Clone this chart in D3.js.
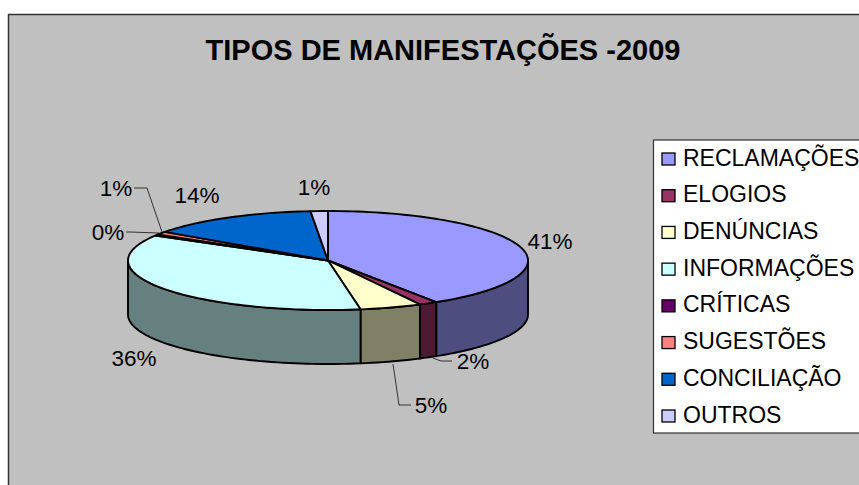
<!DOCTYPE html>
<html><head><meta charset="utf-8">
<script src="https://cdn.jsdelivr.net/npm/d3@7"></script>
<style>html,body{margin:0;padding:0;background:#fff;overflow:hidden}svg{display:block}text{font-family:"Liberation Sans",Arial,sans-serif;fill:#000}</style>
</head><body><svg id="c" width="859" height="485"></svg>
<script>
const categories=["RECLAMAÇÕES","ELOGIOS","DENÚNCIAS","INFORMAÇÕES","CRÍTICAS","SUGESTÕES","CONCILIAÇÃO","OUTROS"];
const values=[40.9,1.5,5,36,0.4,1,13.8,1.4];
const topColors=["#9999FF","#993366","#FFFFCC","#CCFFFF","#660066","#FF8080","#0066CC","#CCCCFF"];
const sideColors=["#4D4D80","#4D1A33","#808066","#668080","#330033","#804040","#003366","#666680"];
const labelPos=[[550,241],[473,361],[431,405],[134,358],[108,232],[116,188],[197,195],[314,187]];
const title="TIPOS DE MANIFESTAÇÕES -2009";
const cx=328,cy=260.5,rx=200,ry=49.5,depth=54;
const svg=d3.select("#c");
svg.append("rect").attr("x",8.5).attr("y",14.5).attr("width",900).attr("height",520).attr("fill","#C0C0C0").attr("stroke","#333").attr("stroke-width",1.5);
svg.append("text").attr("x",443).attr("y",60).attr("text-anchor","middle").attr("font-size",29).attr("font-weight","bold").text(title);

const pie=d3.pie().sort(null).value(d=>d);
const arcs=pie(values);
const xs=d3.scaleLinear().domain([-1,1]).range([cx-rx,cx+rx]);
const ys=d3.scaleLinear().domain([-1,1]).range([cy+ry,cy-ry]);
const px=a=>xs(Math.sin(a)), py=a=>ys(Math.cos(a));
const samples=(a0,a1)=>{const n=Math.max(2,Math.ceil((a1-a0)/0.03));return d3.range(n+1).map(i=>a0+(a1-a0)*i/n);};
const line=d3.line().x(d=>d[0]).y(d=>d[1]);
const g=svg.append("g").attr("stroke","#000").attr("stroke-width",1.9).attr("stroke-linejoin","round");
const visible=arcs.map((d,i)=>({i,a0:Math.max(d.startAngle,Math.PI/2),a1:Math.min(d.endAngle,3*Math.PI/2)})).filter(d=>d.a1>d.a0);
visible.forEach(d=>{
  const top=samples(d.a0,d.a1).map(a=>[px(a),py(a)]);
  const bot=top.slice().reverse().map(p=>[p[0],p[1]+depth]);
  g.append("path").attr("d",line(top.concat(bot))+"Z").attr("fill",sideColors[d.i]);
});
arcs.forEach((d,i)=>{
  const pts=[[cx,cy]].concat(samples(d.startAngle,d.endAngle).map(a=>[px(a),py(a)]));
  g.append("path").attr("d",line(pts)+"Z").attr("fill",topColors[i]);
});
const leaders=[[[433,358],[441,361],[452,361]],[[393,364],[399,405],[411,405]],[[159,233],[130,232],[126,232]],[[162,232],[147,188],[134,188]]];
leaders.forEach(l=>svg.append("path").attr("d",line(l)).attr("fill","none").attr("stroke","#222").attr("stroke-width",0.9));
arcs.forEach((d,i)=>{
  svg.append("text").attr("x",labelPos[i][0]).attr("y",labelPos[i][1]+8).attr("text-anchor","middle").attr("font-size",22.5).text(Math.round(d.value)+"%");
});
svg.append("rect").attr("x",653.5).attr("y",140).attr("width",300).attr("height",293).attr("fill","#fff").attr("stroke","#333").attr("stroke-width",1.2);
const ly=d3.scalePoint().domain(categories).range([158.5,415.5]);
categories.forEach((c,i)=>{
  svg.append("rect").attr("x",662).attr("y",ly(c)-5.5).attr("width",13).attr("height",12).attr("fill",topColors[i]).attr("stroke","#000").attr("stroke-width",1.3);
  svg.append("text").attr("x",683).attr("y",ly(c)+7).attr("font-size",23).text(c);
});
</script></body></html>
